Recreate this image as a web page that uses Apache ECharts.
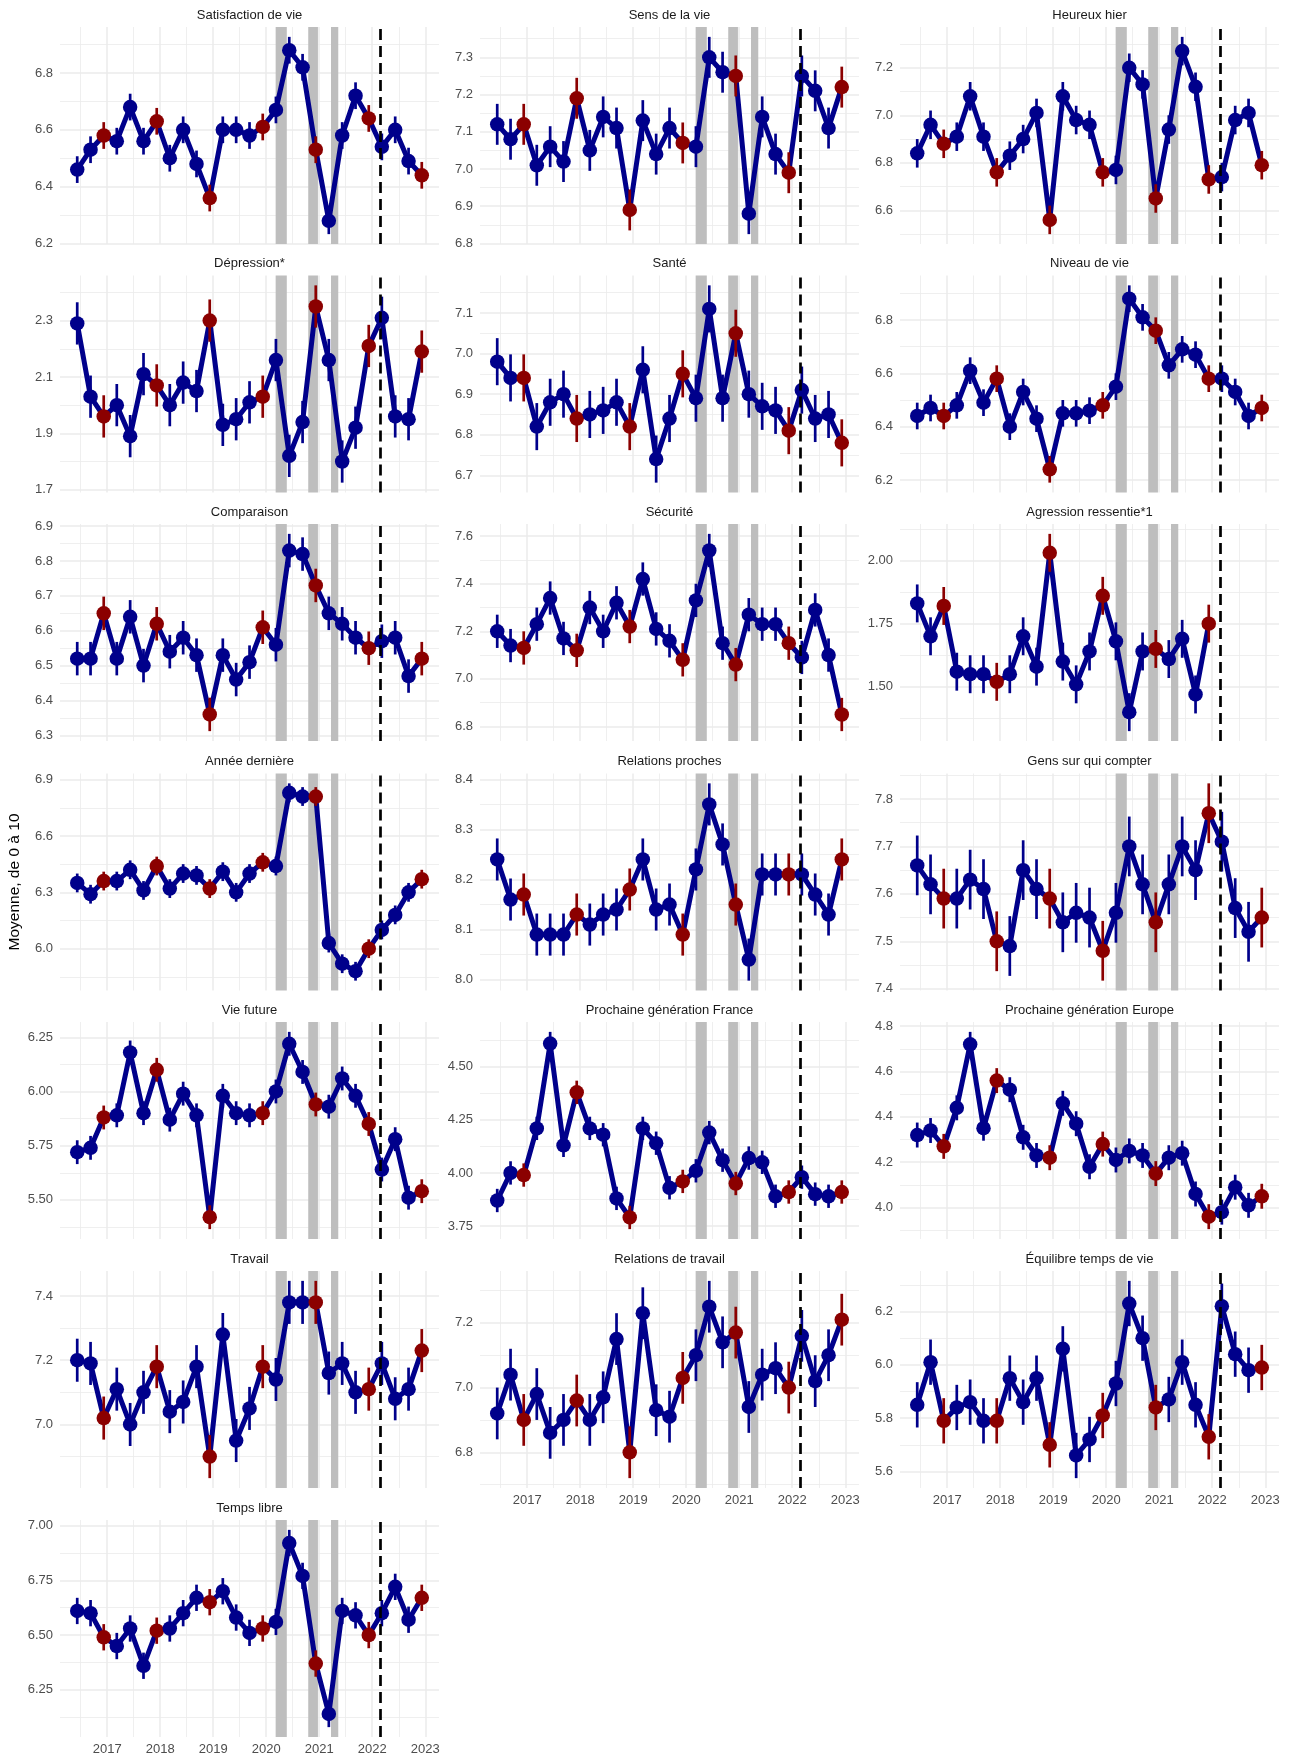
<!DOCTYPE html>
<html><head><meta charset="utf-8">
<script src="https://cdn.jsdelivr.net/npm/echarts@6/dist/echarts.min.js"></script>
<style>html,body{margin:0;padding:0;background:#fff}#c{width:1290px;height:1760px}</style>
</head><body><div id="c"></div>
<script>
// ---------- DATA ----------
const waveDates = [
  '2016-06-08','2016-09-08','2016-12-08',
  '2017-03-08','2017-06-08','2017-09-08','2017-12-08',
  '2018-03-08','2018-06-08','2018-09-08','2018-12-08',
  '2019-03-08','2019-06-08','2019-09-08','2019-12-08',
  '2020-03-08','2020-06-08','2020-09-08','2020-12-08',
  '2021-03-08','2021-06-08','2021-09-08','2021-12-08',
  '2022-03-08','2022-06-08','2022-09-08','2022-12-08'
];
const lockdowns = [['2020-03-06','2020-05-22'],['2020-10-17','2020-12-23'],['2021-03-23','2021-05-12']];
const warDate = '2022-02-24';
const xTickLabels = ['2017','2018','2019','2020','2021','2022','2023'];

const panelTitles = ['Satisfaction de vie','Sens de la vie','Heureux hier','Dépression*','Santé','Niveau de vie',
  'Comparaison','Sécurité','Agression ressentie*1','Année dernière','Relations proches','Gens sur qui compter',
  'Vie future','Prochaine génération France','Prochaine génération Europe','Travail','Relations de travail',
  'Équilibre temps de vie','Temps libre'];

const satisfaction = [6.46,6.53,6.58,6.56,6.68,6.56,6.63,6.50,6.60,6.48,6.36,6.60,6.60,6.58,6.61,6.67,6.88,6.82,6.53,6.28,6.58,6.72,6.64,6.54,6.60,6.49,6.44];
const sensVie = [7.12,7.08,7.12,7.01,7.06,7.02,7.19,7.05,7.14,7.11,6.89,7.13,7.04,7.11,7.07,7.06,7.30,7.26,7.25,6.88,7.14,7.04,6.99,7.25,7.21,7.11,7.22];
const heureuxHier = [6.84,6.96,6.88,6.91,7.08,6.91,6.76,6.83,6.90,7.01,6.56,7.08,6.98,6.96,6.76,6.77,7.20,7.13,6.65,6.94,7.27,7.12,6.73,6.74,6.98,7.01,6.79];
const depression = [2.29,2.03,1.96,2.00,1.89,2.11,2.07,2.00,2.08,2.05,2.30,1.93,1.95,2.01,2.03,2.16,1.82,1.94,2.35,2.16,1.80,1.92,2.21,2.31,1.96,1.95,2.19];
const sante = [6.98,6.94,6.94,6.82,6.88,6.90,6.84,6.85,6.86,6.88,6.82,6.96,6.74,6.84,6.95,6.89,7.11,6.89,7.05,6.90,6.87,6.86,6.81,6.91,6.84,6.85,6.78];
const niveauVie = [6.44,6.47,6.44,6.48,6.61,6.49,6.58,6.40,6.53,6.43,6.24,6.45,6.45,6.46,6.48,6.55,6.88,6.81,6.76,6.63,6.69,6.67,6.58,6.58,6.53,6.44,6.47];
const comparaison = [6.52,6.52,6.65,6.52,6.64,6.50,6.62,6.54,6.58,6.53,6.36,6.53,6.46,6.51,6.61,6.56,6.83,6.82,6.73,6.65,6.62,6.58,6.55,6.57,6.58,6.47,6.52];
const securite = [7.20,7.14,7.13,7.23,7.34,7.17,7.12,7.30,7.20,7.32,7.22,7.42,7.21,7.16,7.08,7.33,7.54,7.15,7.06,7.27,7.23,7.23,7.15,7.09,7.29,7.10,6.85];
const agression = [1.83,1.70,1.82,1.56,1.55,1.55,1.52,1.55,1.70,1.58,2.03,1.60,1.51,1.64,1.86,1.68,1.40,1.64,1.65,1.61,1.69,1.47,1.75,null,null,null,null];
const anneeDerniere = [6.35,6.29,6.36,6.36,6.42,6.31,6.44,6.32,6.40,6.39,6.32,6.41,6.30,6.40,6.46,6.44,6.83,6.81,6.81,6.03,5.92,5.88,6.00,6.10,6.18,6.30,6.37];
const relationsProches = [8.24,8.16,8.17,8.09,8.09,8.09,8.13,8.11,8.13,8.14,8.18,8.24,8.14,8.15,8.09,8.22,8.35,8.27,8.15,8.04,8.21,8.21,8.21,8.21,8.17,8.13,8.24];
const gensCompter = [7.66,7.62,7.59,7.59,7.63,7.61,7.50,7.49,7.65,7.61,7.59,7.54,7.56,7.55,7.48,7.56,7.70,7.62,7.54,7.62,7.70,7.65,7.77,7.71,7.57,7.52,7.55];
const vieFuture = [5.72,5.74,5.88,5.89,6.18,5.90,6.10,5.87,5.99,5.89,5.42,5.98,5.90,5.89,5.90,6.00,6.22,6.09,5.94,5.93,6.06,5.98,5.85,5.64,5.78,5.51,5.54];
const genFrance = [3.87,4.00,3.99,4.21,4.61,4.13,4.38,4.21,4.18,3.88,3.79,4.21,4.14,3.93,3.96,4.01,4.19,4.06,3.95,4.07,4.05,3.89,3.91,3.98,3.90,3.89,3.91];
const genEurope = [4.32,4.34,4.27,4.44,4.72,4.35,4.56,4.52,4.31,4.23,4.22,4.46,4.37,4.18,4.28,4.21,4.25,4.23,4.15,4.22,4.24,4.06,3.96,3.98,4.09,4.01,4.05];
const travail = [7.20,7.19,7.02,7.11,7.00,7.10,7.18,7.04,7.07,7.18,6.90,7.28,6.95,7.05,7.18,7.14,7.38,7.38,7.38,7.16,7.19,7.10,7.11,7.19,7.08,7.11,7.23];
const relationsTravail = [6.92,7.04,6.90,6.98,6.86,6.90,6.96,6.90,6.97,7.15,6.80,7.23,6.93,6.91,7.03,7.10,7.25,7.14,7.17,6.94,7.04,7.06,7.00,7.16,7.02,7.10,7.21];
const equilibre = [5.85,6.01,5.79,5.84,5.86,5.79,5.79,5.95,5.86,5.95,5.70,6.06,5.66,5.72,5.81,5.93,6.23,6.10,5.84,5.87,6.01,5.85,5.73,6.22,6.04,5.98,5.99];
const tempsLibre = [6.61,6.60,6.49,6.45,6.53,6.36,6.52,6.53,6.60,6.67,6.65,6.70,6.58,6.51,6.53,6.56,6.92,6.77,6.37,6.14,6.61,6.59,6.50,6.60,6.72,6.57,6.67];

// half-width of the confidence interval, one per panel
const ciHalfWidths = [0.047,0.055,0.06,0.075,0.058,0.05,0.048,0.07,0.075,0.05,0.042,0.063,0.055,0.055,0.055,0.067,0.08,0.085,0.06];

const yTickLabels = [
  ['6.2','6.4','6.6','6.8'], ['6.8','6.9','7.0','7.1','7.2','7.3'], ['6.6','6.8','7.0','7.2'],
  ['1.7','1.9','2.1','2.3'], ['6.7','6.8','6.9','7.0','7.1'], ['6.2','6.4','6.6','6.8'],
  ['6.3','6.4','6.5','6.6','6.7','6.8','6.9'], ['6.8','7.0','7.2','7.4','7.6'], ['1.50','1.75','2.00'],
  ['6.0','6.3','6.6','6.9'], ['8.0','8.1','8.2','8.3','8.4'], ['7.4','7.5','7.6','7.7','7.8'],
  ['5.50','5.75','6.00','6.25'], ['3.75','4.00','4.25','4.50'], ['4.0','4.2','4.4','4.6','4.8'],
  ['6.8','7.0','7.2','7.4'], ['6.8','7.0','7.2'], ['5.6','5.8','6.0','6.2'],
  ['6.25','6.50','6.75','7.00']
];

const panelValues = [satisfaction, sensVie, heureuxHier, depression, sante, niveauVie, comparaison, securite,
  agression, anneeDerniere, relationsProches, gensCompter, vieFuture, genFrance, genEurope, travail,
  relationsTravail, equilibre, tempsLibre];

// ---------- LAYOUT / STYLE ----------
const FONT = '"Liberation Sans", Arial, Helvetica, sans-serif';
const BLUE = '#00008B', RED = '#8B0000', GRIDC = '#EBEBEB', BAND = '#BEBEBE';
const colLeft = [60, 480, 900];
const rowTop = [27, 275.5, 524, 773.5, 1022, 1271, 1520];
const plotW = 379, plotH = 217;

function decYear(s) {
  const p = s.split('-').map(Number);
  const t = Date.UTC(p[0], p[1] - 1, p[2]) - Date.UTC(p[0], 0, 1);
  const len = Date.UTC(p[0] + 1, 0, 1) - Date.UTC(p[0], 0, 1);
  return p[0] + t / len;
}
const xs = waveDates.map(decYear);
const isDecember = waveDates.map(s => Number(s.split('-')[1]) === 12);
const xSpan = xs[xs.length - 1] - xs[0];
const xMin = xs[0] - 0.05 * xSpan, xMax = xs[xs.length - 1] + 0.05 * xSpan;
const xMajor = xTickLabels.map(Number);
const xMinor = [];
for (let v = xMajor[0] - 0.5; v <= xMajor[xMajor.length - 1] + 0.5; v += 1) if (v > xMin && v < xMax) xMinor.push(v);
const bandAreas = lockdowns.map(b => [{ xAxis: decYear(b[0]) }, { xAxis: decYear(b[1]) }]);
const warX = decYear(warDate);

const option = { animation: false, backgroundColor: '#ffffff', grid: [], xAxis: [], yAxis: [], series: [], graphic: [] };

panelValues.forEach((vals, g) => {
  const col = g % 3, row = Math.floor(g / 3);
  const ci = ciHalfWidths[g];
  const pts = [];
  vals.forEach((v, i) => { if (v != null) pts.push({ x: xs[i], v: v, dec: isDecember[i] }); });
  let lo = Infinity, hi = -Infinity;
  pts.forEach(p => { lo = Math.min(lo, p.v - ci); hi = Math.max(hi, p.v + ci); });
  const pad = 0.05 * (hi - lo);
  const yMin = lo - pad, yMax = hi + pad;
  const tickStr = yTickLabels[g];
  const yMajor = tickStr.map(Number);
  const dec = (tickStr[0].split('.')[1] || '').length;
  const step = yMajor[1] - yMajor[0];
  const yMinor = [];
  for (let k = -1; k <= yMajor.length; k++) {
    const v = yMajor[0] + (k + 0.5) * step;
    if (v > yMin && v < yMax) yMinor.push(+v.toFixed(6));
  }
  const showX = row === 6 || (row === 5 && col > 0);

  option.grid.push({ left: colLeft[col], top: rowTop[row], width: plotW, height: plotH });

  const axisCommon = { axisLine: { show: false } };
  option.xAxis.push(Object.assign({}, axisCommon, {
    type: 'value', gridIndex: g, min: xMin, max: xMax,
    axisTick: { show: false, customValues: xMajor },
    axisLabel: { show: showX, customValues: xMajor, formatter: v => String(Math.round(v)),
      color: '#4D4D4D', fontSize: 13, fontFamily: FONT, margin: 6 },
    splitLine: { show: true, lineStyle: { color: GRIDC, width: 1.5 } }
  }));
  option.xAxis.push(Object.assign({}, axisCommon, {
    type: 'value', gridIndex: g, min: xMin, max: xMax,
    axisTick: { show: false, customValues: xMinor },
    axisLabel: { show: false },
    splitLine: { show: true, lineStyle: { color: GRIDC, width: 0.8 } }
  }));
  option.yAxis.push(Object.assign({}, axisCommon, {
    type: 'value', gridIndex: g, min: yMin, max: yMax,
    axisTick: { show: false, customValues: yMajor },
    axisLabel: { show: true, customValues: yMajor, formatter: v => v.toFixed(dec),
      color: '#4D4D4D', fontSize: 13, fontFamily: FONT, margin: 7 },
    splitLine: { show: true, lineStyle: { color: GRIDC, width: 1.5 } }
  }));
  option.yAxis.push(Object.assign({}, axisCommon, {
    type: 'value', gridIndex: g, min: yMin, max: yMax,
    axisTick: { show: false, customValues: yMinor },
    axisLabel: { show: false },
    splitLine: { show: true, lineStyle: { color: GRIDC, width: 0.8 } }
  }));

  const xi = 2 * g, yi = 2 * g;
  const lineData = pts.map(p => [p.x, p.v]);
  // lockdown bands
  option.series.push({
    type: 'line', xAxisIndex: xi, yAxisIndex: yi, z: 1, silent: true, data: lineData,
    showSymbol: false, symbol: 'none', lineStyle: { opacity: 0, width: 0 },
    markArea: { silent: true, itemStyle: { color: BAND, opacity: 1 }, label: { show: false }, data: bandAreas }
  });
  // main line
  option.series.push({
    type: 'line', xAxisIndex: xi, yAxisIndex: yi, z: 2, silent: true, data: lineData,
    showSymbol: false, symbol: 'none', lineStyle: { color: BLUE, width: 5, cap: 'round', join: 'round', opacity: 1 }
  });
  // error bars
  option.series.push({
    type: 'custom', xAxisIndex: xi, yAxisIndex: yi, z: 3, silent: true,
    data: pts.map(p => [p.x, p.v - ci, p.v + ci]),
    renderItem: (params, api) => {
      const a = api.coord([api.value(0), api.value(1)]);
      const b = api.coord([api.value(0), api.value(2)]);
      return { type: 'line', shape: { x1: a[0], y1: a[1], x2: b[0], y2: b[1] },
        style: { stroke: pts[params.dataIndex].dec ? RED : BLUE, lineWidth: 2.7, opacity: 1 } };
    }
  });
  // points
  option.series.push({
    type: 'scatter', xAxisIndex: xi, yAxisIndex: yi, z: 4, silent: true, symbolSize: 14.5,
    itemStyle: { opacity: 1 },
    data: pts.map(p => ({ value: [p.x, p.v], itemStyle: { color: p.dec ? RED : BLUE, opacity: 1 } }))
  });
  // dashed vertical line
  option.series.push({
    type: 'line', xAxisIndex: xi, yAxisIndex: yi, z: 5, silent: true, data: lineData,
    showSymbol: false, symbol: 'none', lineStyle: { opacity: 0, width: 0 },
    markLine: { silent: true, symbol: ['none', 'none'], label: { show: false },
      lineStyle: { color: '#000', width: 2.7, type: [11, 6], opacity: 1 },
      data: [{ xAxis: warX }] }
  });

  option.graphic.push({
    type: 'text', x: colLeft[col] + plotW / 2, y: rowTop[row] - 12, silent: true,
    style: { text: panelTitles[g], fill: '#1A1A1A', fontSize: 13, fontFamily: FONT,
      align: 'center', verticalAlign: 'middle', textAlign: 'center', textVerticalAlign: 'middle' }
  });
});

option.graphic.push({
  type: 'text', x: 15, y: 882, rotation: Math.PI / 2, silent: true,
  style: { text: 'Moyenne, de 0 à 10', fill: '#000', fontSize: 15.5, fontFamily: FONT,
    align: 'center', verticalAlign: 'middle', textAlign: 'center', textVerticalAlign: 'middle' }
});

const chart = echarts.init(document.getElementById('c'), null, { renderer: 'canvas' });
chart.setOption(option);
</script>
</body></html>
